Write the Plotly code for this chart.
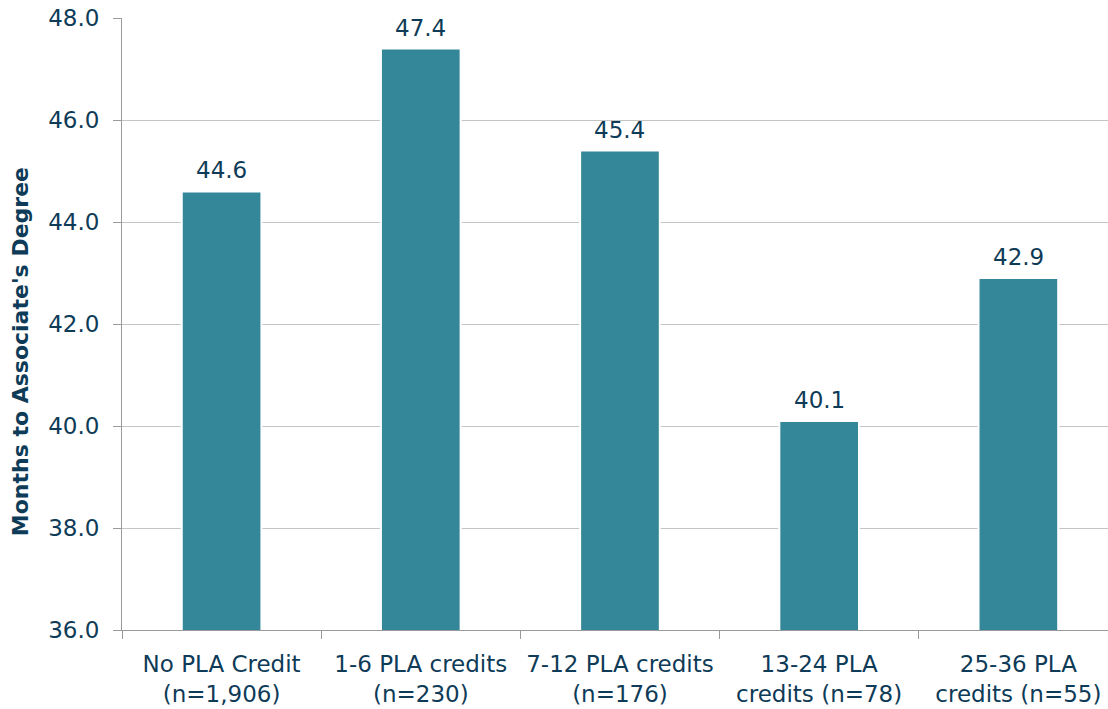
import plotly.graph_objects as go

categories = ["No PLA Credit<br>(n=1,906)", "1-6 PLA credits<br>(n=230)", "7-12 PLA credits<br>(n=176)",
              "13-24 PLA<br>credits (n=78)", "25-36 PLA<br>credits (n=55)"]
months = [44.6, 47.4, 45.4, 40.1, 42.9]
labels = ["44.6", "47.4", "45.4", "40.1", "42.9"]

navy = "#0e3b57"
fig = go.Figure(go.Bar(
    x=categories, y=months,
    marker=dict(color="#338799", line=dict(color="#ffffff", width=2)),
    width=0.40,
))
for c, v, t in zip(categories, months, labels):
    fig.add_annotation(x=c, y=v, text=t, showarrow=False, yanchor="bottom", yshift=6,
                       font=dict(size=23, color=navy))
fig.update_layout(
    width=1108, height=709,
    margin=dict(l=122, r=0, t=18, b=79, autoexpand=False),
    paper_bgcolor="white", plot_bgcolor="white",
    font=dict(family="DejaVu Sans", color=navy, size=23),
    showlegend=False,
    xaxis=dict(range=[-0.5, 4.45], tickson="boundaries", ticks="outside", ticklen=8,
               tickcolor="#9a9a9a", showline=True, linecolor="#9a9a9a", linewidth=1,
               automargin=False, ticklabelstandoff=13, ticklabeloverflow="allow",
               tickfont=dict(size=23, color=navy)),
    yaxis=dict(range=[36, 48], dtick=2, tickformat=".1f", ticks="outside", ticklen=8,
               tickcolor="#9a9a9a", showline=True, linecolor="#9a9a9a", linewidth=1,
               showgrid=True, gridcolor="#c4c4c4", gridwidth=1, zeroline=False,
               automargin=False, ticklabelstandoff=9, ticklabeloverflow="allow",
               tickfont=dict(size=23, color=navy)),
)
fig.add_annotation(xref="paper", yref="paper", x=-0.1034, y=0.454, xanchor="center", yanchor="middle",
                   text="<b>Months to Associate's Degree</b>", textangle=-90, showarrow=False,
                   font=dict(size=22, color=navy))
fig.write_html("out.html", config={"displayModeBar": False},
               post_script="document.body.style.margin='0';")
